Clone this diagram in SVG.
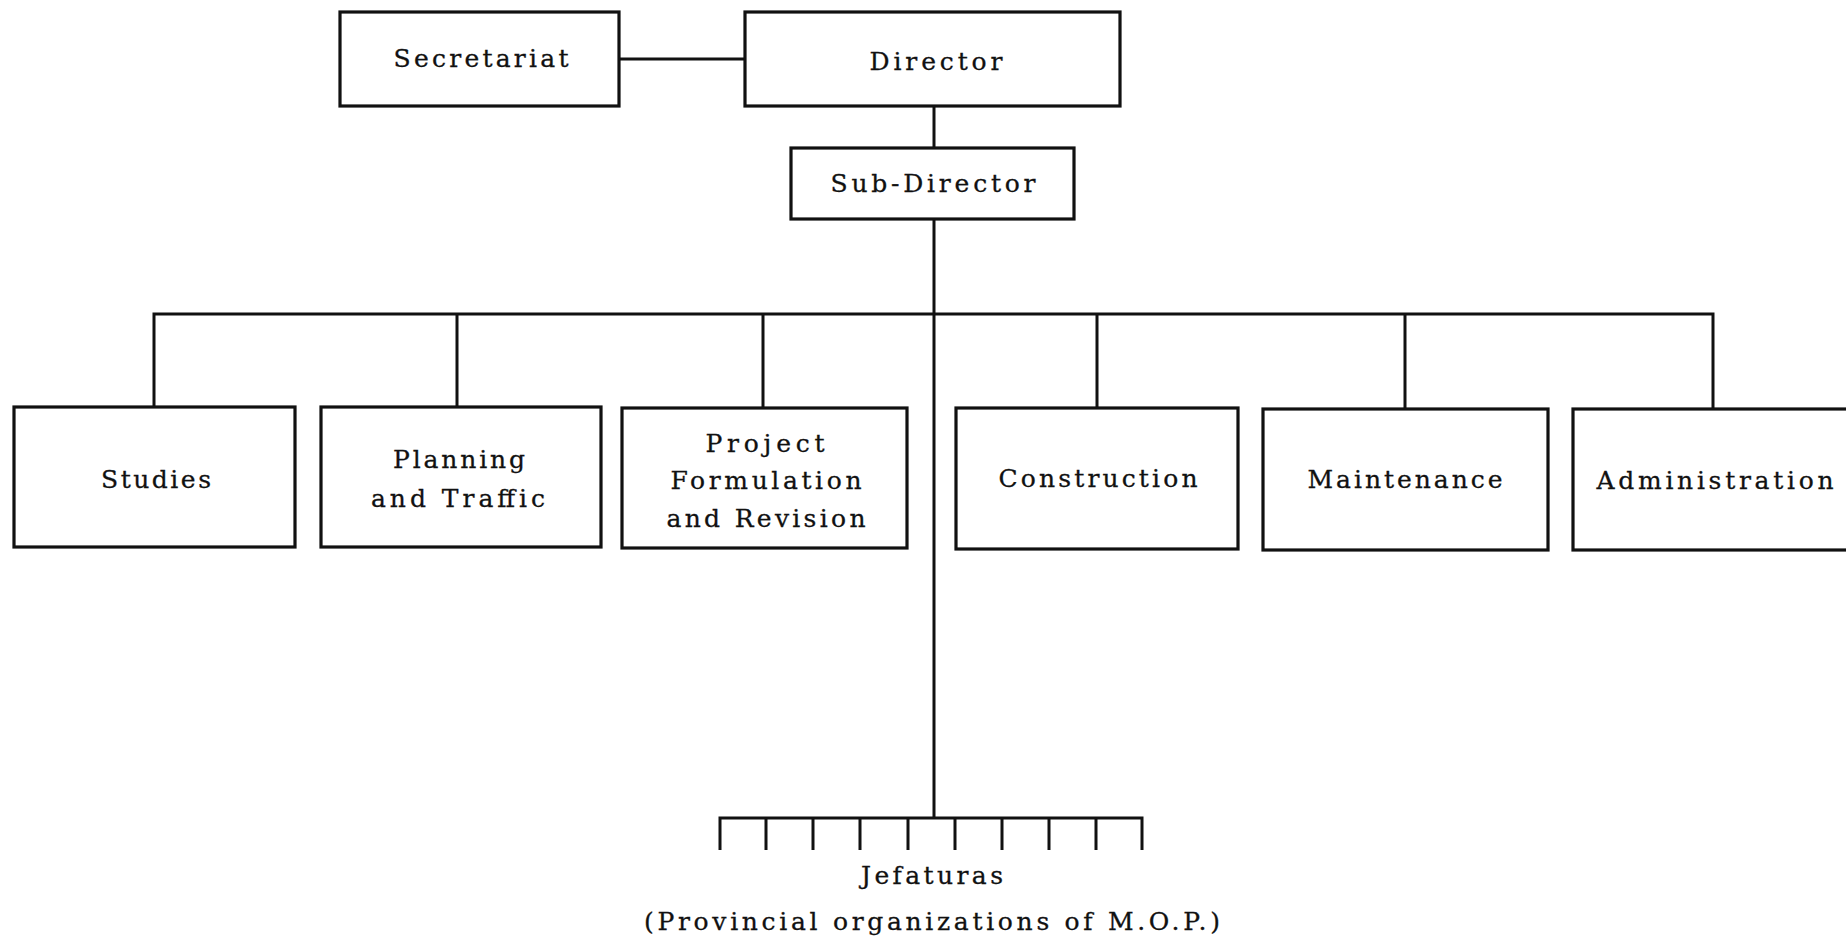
<svg xmlns="http://www.w3.org/2000/svg" width="1846" height="940" viewBox="0 0 1846 940">
<style>
.box{fill:#fff;stroke:#111;stroke-width:3.2}
.ln{fill:none;stroke:#111;stroke-width:3}
text{font-family:"DejaVu Serif","Liberation Serif",serif;font-size:25px;fill:#111;stroke:#111;stroke-width:0.3;text-anchor:middle}
</style>
<rect width="1846" height="940" fill="#fff"/>
<g id="connectors">
<path class="ln" d="M619 59H745"/>
<path class="ln" d="M934 106V148"/>
<path class="ln" d="M934 219V818"/>
<path class="ln" d="M154 407V314H1713V409"/>
<path class="ln" d="M457 314V407M763 314V408M1097 314V408M1405 314V409"/>
<path class="ln" d="M720 850V818H1142V850M766 818V850M813 818V850M860 818V850M908 818V850M955 818V850M1002 818V850M1049 818V850M1096 818V850"/>
</g>
<g id="secretariat"><rect class="box" x="340" y="12" width="279" height="94"/><text x="481" y="67" textLength="175" lengthAdjust="spacing">Secretariat</text></g>
<g id="director"><rect class="box" x="745" y="12" width="375" height="94"/><text x="936" y="70" textLength="133" lengthAdjust="spacing">Director</text></g>
<g id="subdirector"><rect class="box" x="791" y="148" width="283" height="71"/><text x="933" y="192" textLength="205" lengthAdjust="spacing">Sub-Director</text></g>
<g id="studies"><rect class="box" x="14" y="407" width="281" height="140"/><text x="156" y="488" textLength="110" lengthAdjust="spacing">Studies</text></g>
<g id="planning"><rect class="box" x="321" y="407" width="280" height="140"/><text x="459" y="468" textLength="132" lengthAdjust="spacing">Planning</text><text x="458" y="507" textLength="174" lengthAdjust="spacing">and Traffic</text></g>
<g id="project"><rect class="box" x="622" y="408" width="285" height="140"/><text x="765" y="452" textLength="119" lengthAdjust="spacing">Project</text><text x="766" y="489" textLength="191" lengthAdjust="spacing">Formulation</text><text x="766" y="527" textLength="199" lengthAdjust="spacing">and Revision</text></g>
<g id="construction"><rect class="box" x="956" y="408" width="282" height="141"/><text x="1098" y="487" textLength="199" lengthAdjust="spacing">Construction</text></g>
<g id="maintenance"><rect class="box" x="1263" y="409" width="285" height="141"/><text x="1405" y="488" textLength="195" lengthAdjust="spacing">Maintenance</text></g>
<g id="administration"><rect class="box" x="1573" y="409" width="290" height="141"/><text x="1715" y="489" textLength="237" lengthAdjust="spacing">Administration</text></g>
<g id="jefaturas"><text x="932" y="884" textLength="142" lengthAdjust="spacing">Jefaturas</text><text x="932" y="930" textLength="576" lengthAdjust="spacing">(Provincial organizations of M.O.P.)</text></g>
</svg>
